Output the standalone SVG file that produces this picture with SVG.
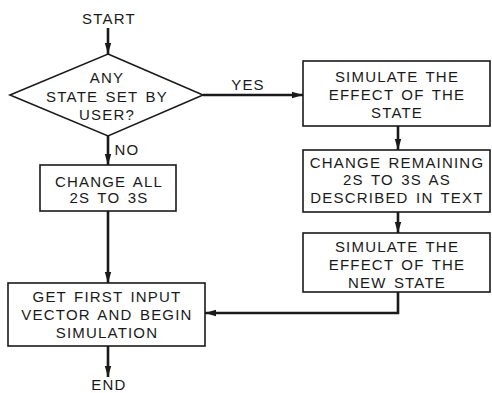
<svg xmlns="http://www.w3.org/2000/svg" width="492" height="393" viewBox="0 0 492 393">
<style>
.t{font-family:"Liberation Sans",Arial,sans-serif;font-size:15px;letter-spacing:1.2px;word-spacing:2px;fill:#1a1a1a;text-anchor:middle}
.b{fill:#fff;stroke:#1a1a1a;stroke-width:1.6}
.c{fill:none;stroke:#1a1a1a;stroke-width:2.6}
</style>
<defs>
<marker id="ah" markerUnits="userSpaceOnUse" markerWidth="12" markerHeight="8" refX="11" refY="4" orient="auto">
<path d="M0,0.8 L11,4 L0,7.2 Z" fill="#1a1a1a"/>
</marker>
</defs>
<rect width="492" height="393" fill="#fff"/>
<g id="connectors">
<line class="c" x1="108" y1="28" x2="108" y2="54" marker-end="url(#ah)"/>
<line class="c" x1="108" y1="136" x2="108" y2="165" marker-end="url(#ah)"/>
<line class="c" x1="108" y1="211" x2="108" y2="283" marker-end="url(#ah)"/>
<line class="c" x1="108" y1="346" x2="108" y2="377" marker-end="url(#ah)"/>
<line class="c" x1="203" y1="95" x2="303" y2="95" marker-end="url(#ah)"/>
<line class="c" x1="398" y1="126" x2="398" y2="150" marker-end="url(#ah)"/>
<line class="c" x1="398" y1="212" x2="398" y2="233" marker-end="url(#ah)"/>
<path class="c" d="M398,292 L398,313 L205,313" marker-end="url(#ah)"/>
<text class="t" x="248" y="90">YES</text>
<text class="t" x="127" y="155">NO</text>
</g>
<g id="start"><text class="t" x="109" y="24">START</text></g>
<g id="decision">
<polygon class="b" points="108,54 203,95 108,136 10,95"/>
<text class="t" x="107" y="83">ANY</text>
<text class="t" x="107" y="102">STATE SET BY</text>
<text class="t" x="107" y="120">USER?</text>
</g>
<g id="change-all">
<rect class="b" x="40" y="165" width="136" height="46"/>
<text class="t" x="109" y="187">CHANGE ALL</text>
<text class="t" x="109" y="203">2S TO 3S</text>
</g>
<g id="get-first">
<rect class="b" x="8" y="283" width="197" height="63"/>
<text class="t" x="107" y="302">GET FIRST INPUT</text>
<text class="t" x="107" y="320">VECTOR AND BEGIN</text>
<text class="t" x="107" y="338">SIMULATION</text>
</g>
<g id="end"><text class="t" x="109" y="390">END</text></g>
<g id="simulate-state">
<rect class="b" x="303" y="61" width="187" height="65"/>
<text class="t" x="397" y="82">SIMULATE THE</text>
<text class="t" x="397" y="100">EFFECT OF THE</text>
<text class="t" x="397" y="118">STATE</text>
</g>
<g id="change-remaining">
<rect class="b" x="303" y="150" width="187" height="62"/>
<text class="t" x="397" y="168">CHANGE REMAINING</text>
<text class="t" x="397" y="185">2S TO 3S AS</text>
<text class="t" x="397" y="203">DESCRIBED IN TEXT</text>
</g>
<g id="simulate-new">
<rect class="b" x="303" y="233" width="187" height="59"/>
<text class="t" x="397" y="252">SIMULATE THE</text>
<text class="t" x="397" y="270">EFFECT OF THE</text>
<text class="t" x="397" y="288">NEW STATE</text>
</g>
</svg>
